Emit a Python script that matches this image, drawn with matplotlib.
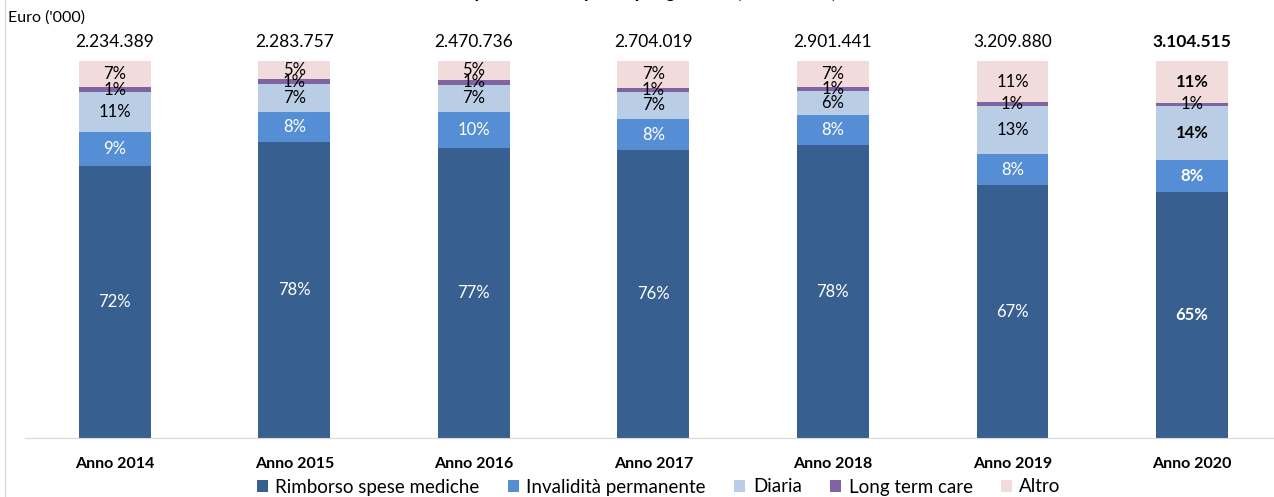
import numpy as np
import matplotlib.pyplot as plt
from matplotlib.lines import Line2D

plt.rcParams['font.family'] = ['Lato', 'DejaVu Sans']

# data (share of premiums by guarantee, %)
anni = ['Anno 2014', 'Anno 2015', 'Anno 2016', 'Anno 2017', 'Anno 2018', 'Anno 2019', 'Anno 2020']
totali = ['2.234.389', '2.283.757', '2.470.736', '2.704.019', '2.901.441', '3.209.880', '3.104.515']
rimborso = [72.1, 78.4, 76.9, 76.3, 77.7, 67.1, 65.3]
invalidita = [9.0, 8.1, 9.6, 8.2, 8.0, 8.2, 8.4]
diaria = [10.6, 7.3, 7.2, 7.4, 6.4, 12.8, 14.4]
ltc = [1.4, 1.3, 1.3, 1.0, 1.0, 0.9, 0.8]
altro = [6.9, 4.9, 5.0, 7.1, 6.9, 11.0, 11.1]

serie = ['Rimborso spese mediche', 'Invalidità permanente', 'Diaria', 'Long term care', 'Altro']
valori = [rimborso, invalidita, diaria, ltc, altro]
colori = ['#375F8F', '#558ED5', '#B9CDE5', '#8064A2', '#F2DCDB']
col_testo = ['white', 'white', 'black', 'black', 'black']

fig = plt.figure(figsize=(12.74, 4.97), dpi=100)
ax = fig.add_axes([25 / 1274, 59 / 497, 1 - 25 / 1274, 377 / 497])

x = np.arange(len(anni))
base = np.zeros(len(anni))
for nome, v, c, tc in zip(serie, valori, colori, col_testo):
    v = np.array(v)
    ax.bar(x, v, 0.40, bottom=base, color=c, label=nome)
    for i in range(len(anni)):
        # last year bold, except the long term care label
        peso = 'bold' if (i == len(anni) - 1 and nome != 'Long term care') else 'normal'
        ax.text(x[i], base[i] + v[i] / 2, f'{round(v[i]):.0f}%', ha='center', va='center',
                color=tc, fontsize=12, fontweight=peso)
    base += v

for i, t in enumerate(totali):
    peso = 'bold' if i == len(anni) - 1 else 'normal'
    ax.text(x[i], 105, t, ha='center', va='center', fontsize=12.5, fontweight=peso, clip_on=False)

ax.set_xlim(-0.5, 6.457)
ax.set_ylim(0, 100)
ax.set_xticks(x)
ax.set_xticklabels(anni, fontweight='bold', fontsize=11.5)
ax.tick_params(axis='x', length=0, pad=14)
ax.set_yticks([])
for s in ['top', 'right', 'left']:
    ax.spines[s].set_visible(False)
ax.spines['bottom'].set_color('#D9D9D9')

fig.text(8 / 1274, 1 - 18 / 497, "Euro ('000)", va='center', ha='left', fontsize=11.5)
fig.text(0.5, 1.004, 'Composizione dei premi per garanzia (2014-2020)', ha='center', va='baseline',
         fontsize=13, fontweight='bold')
fig.add_artist(Line2D([5 / 1274, 5 / 1274], [0, 1], color='#D9D9D9', lw=1))

fig.legend(loc='center', bbox_to_anchor=(0.517, 1 - 487 / 497), ncol=5, frameon=False,
           fontsize=13.5, handlelength=0.6, handleheight=0.6, handletextpad=0.4,
           columnspacing=1.5, borderpad=0)

fig.savefig('out.png', dpi=100)
